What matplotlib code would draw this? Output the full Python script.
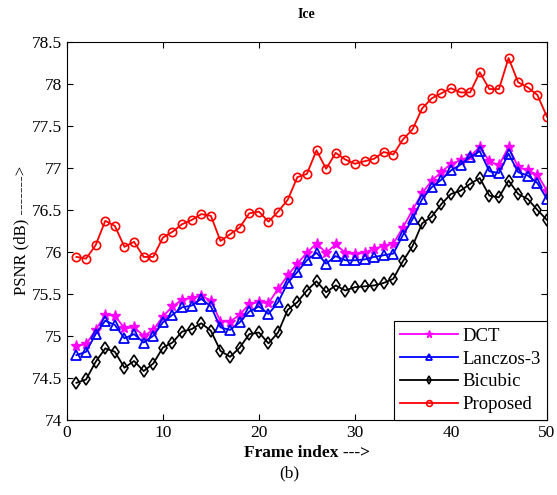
import numpy as np
import matplotlib
matplotlib.use('Agg')
import matplotlib.pyplot as plt
from matplotlib.ticker import FormatStrFormatter

plt.rcParams['font.family'] = 'Liberation Serif'
plt.rcParams.update({'font.size': 11})

# ---------------------------------------------------------------------------
# data
frames = np.arange(1, 51)

psnr_dct = [74.88, 74.90, 75.07, 75.25, 75.24, 75.09, 75.10, 75.00, 75.07, 75.23,
            75.35, 75.43, 75.45, 75.48, 75.42, 75.17, 75.17, 75.25, 75.38, 75.40,
            75.39, 75.56, 75.72, 75.86, 75.99, 76.10, 75.99, 76.09, 75.99, 75.97,
            75.99, 76.04, 76.07, 76.10, 76.29, 76.50, 76.70, 76.85, 76.95, 77.05,
            77.09, 77.14, 77.25, 77.08, 77.03, 77.25, 77.01, 76.97, 76.92, 76.73]

psnr_lanczos = [74.77, 74.81, 75.02, 75.18, 75.13, 74.97, 75.02, 74.92, 75.00, 75.16,
                75.25, 75.34, 75.36, 75.44, 75.35, 75.10, 75.07, 75.16, 75.29, 75.35,
                75.26, 75.40, 75.63, 75.76, 75.90, 75.99, 75.86, 75.95, 75.90, 75.90,
                75.91, 75.94, 75.96, 75.98, 76.20, 76.39, 76.63, 76.77, 76.86, 76.97,
                77.04, 77.13, 77.20, 76.96, 76.94, 77.17, 76.95, 76.91, 76.82, 76.63]

psnr_bicubic = [74.44, 74.48, 74.69, 74.85, 74.81, 74.62, 74.70, 74.58, 74.67, 74.86,
                74.92, 75.05, 75.08, 75.15, 75.06, 74.82, 74.75, 74.86, 75.02, 75.04,
                74.91, 75.04, 75.31, 75.40, 75.54, 75.65, 75.52, 75.60, 75.54, 75.58,
                75.59, 75.60, 75.63, 75.68, 75.89, 76.07, 76.34, 76.42, 76.57, 76.69,
                76.73, 76.81, 76.88, 76.67, 76.65, 76.85, 76.69, 76.63, 76.50, 76.38]

psnr_proposed = [75.94, 75.92, 76.08, 76.37, 76.31, 76.06, 76.12, 75.94, 75.94, 76.17,
                 76.24, 76.33, 76.38, 76.45, 76.43, 76.13, 76.21, 76.29, 76.46, 76.48,
                 76.36, 76.48, 76.62, 76.89, 76.93, 77.21, 76.99, 77.18, 77.10, 77.05,
                 77.08, 77.11, 77.19, 77.16, 77.34, 77.46, 77.71, 77.83, 77.89, 77.95,
                 77.90, 77.90, 78.14, 77.94, 77.94, 78.31, 78.02, 77.96, 77.87, 77.61]

# ---------------------------------------------------------------------------
fig = plt.figure(figsize=(5.57, 4.95), dpi=100)
ax = fig.add_axes([0.120, 0.152, 0.862, 0.763])

lw = 1.3
ax.plot(frames, psnr_dct, color='magenta', linewidth=lw, marker='*',
        markersize=8, label='DCT')
ax.plot(frames, psnr_lanczos, color='blue', linewidth=lw, marker='^',
        markersize=7, fillstyle='none', markeredgewidth=1.3, label='Lanczos-3')
ax.plot(frames, psnr_bicubic, color='black', linewidth=lw, marker='d',
        markersize=6, fillstyle='none', markeredgewidth=1.2, label='Bicubic')
ax.plot(frames, psnr_proposed, color='red', linewidth=lw, marker='o',
        markersize=6, fillstyle='none', markeredgewidth=1.2, label='Proposed')

# plotting settings
ax.set_xlim(0, 50)
ax.set_ylim(74, 78.5)
ax.set_xticks(np.arange(0, 51, 10))
ax.set_yticks(np.arange(74, 78.51, 0.5))
ax.yaxis.set_major_formatter(FormatStrFormatter('%g'))
ax.tick_params(direction='in', top=True, right=True, length=4, labelsize=12.5)
for s in ax.spines.values():
    s.set_linewidth(0.8)

ax.set_title('Ice', fontsize=10, fontweight='bold', pad=17)
ax.set_xlabel('Frame index --->', fontsize=12.5, fontweight='bold', labelpad=3)
ax.set_ylabel('PSNR (dB) ------->', fontsize=12, labelpad=2)

leg = ax.legend(loc='lower right', fontsize=13.5, handlelength=3.1,
                markerscale=0.7, fancybox=False, framealpha=1, edgecolor='black',
                borderpad=0.35, labelspacing=0.3, handletextpad=0.2,
                borderaxespad=0.0)
leg.get_frame().set_linewidth(0.8)

fig.text(0.52, 0.035, '(b)', ha='center', fontsize=12.5)

fig.savefig('out.png', dpi=100)
